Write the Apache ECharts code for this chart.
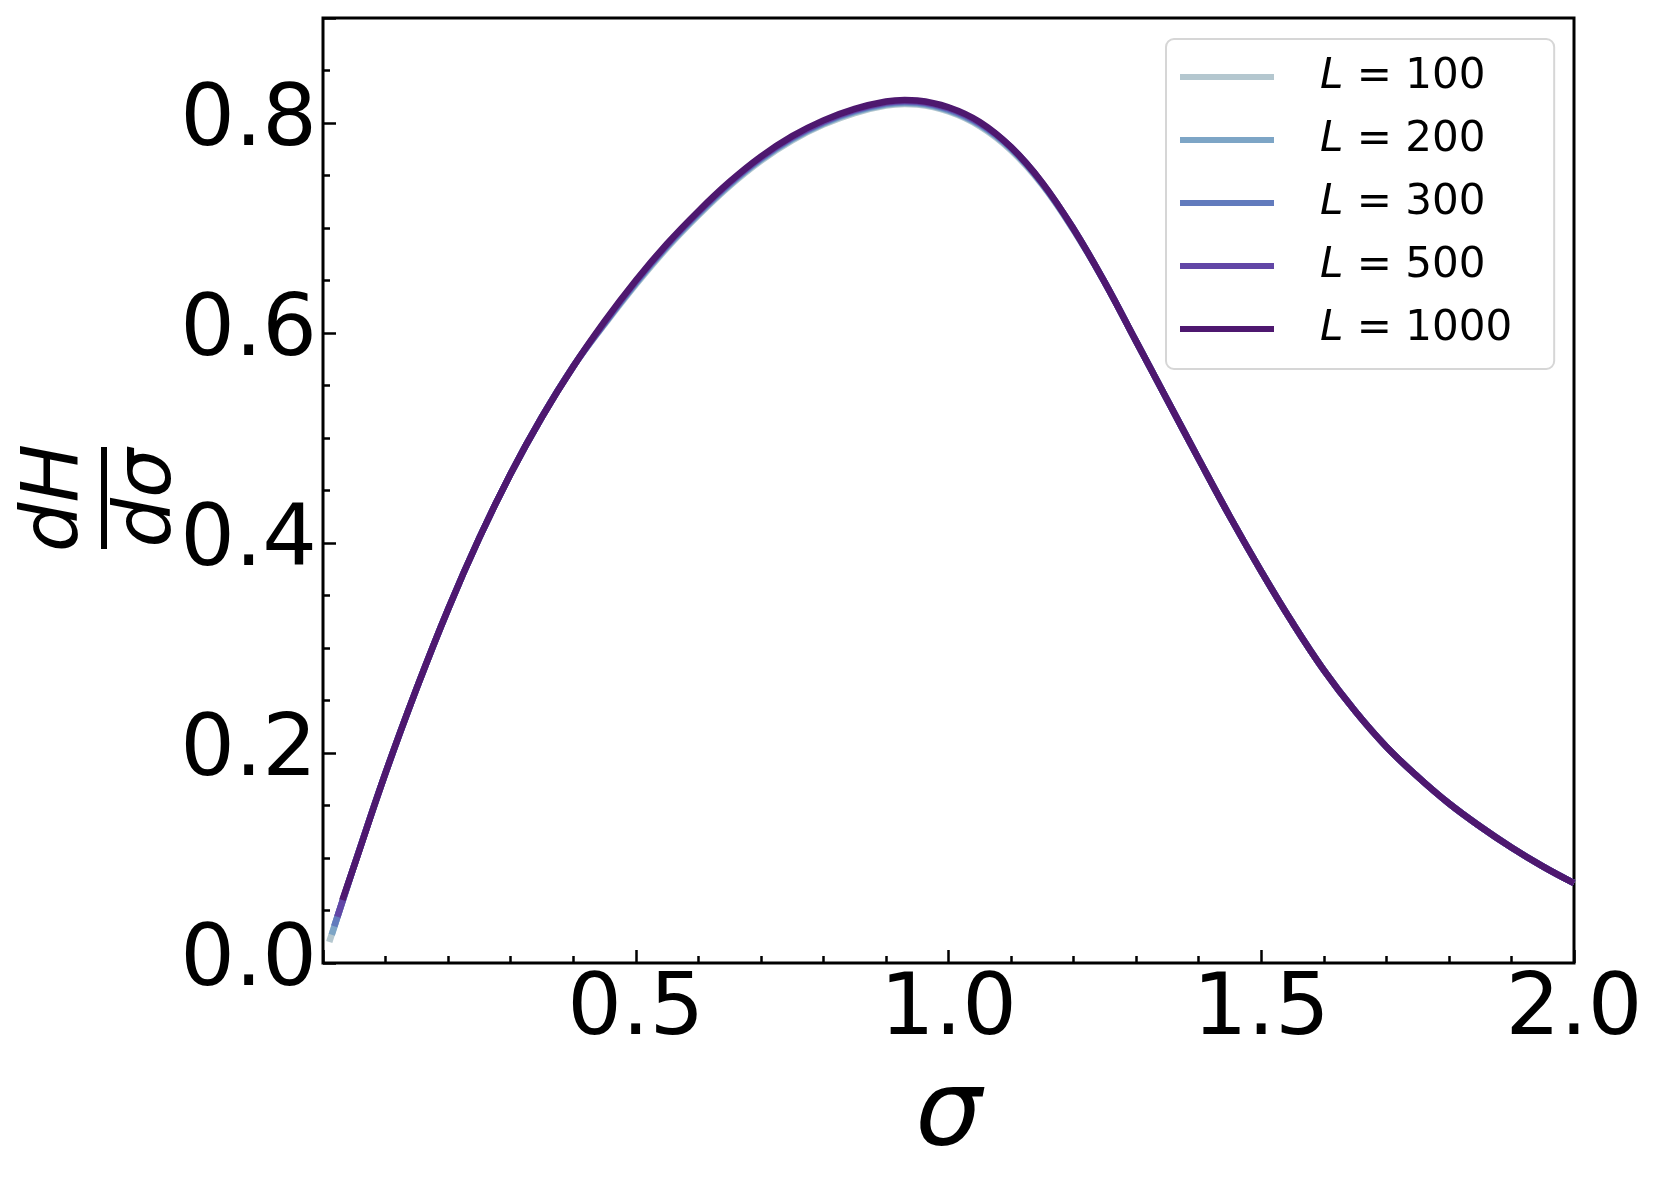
<!DOCTYPE html>
<html>
<head>
<meta charset="utf-8">
<script src="https://cdn.jsdelivr.net/npm/echarts@6/dist/echarts.min.js"></script>
<style>
html, body { margin: 0; background: #fff; }
#chart { width: 1661px; height: 1186px; }
</style>
</head>
<body>
<div id="chart"></div>
<script>
// system sizes and their line colours
const sizes = [100, 200, 300, 500, 1000]
const colors = ['#b4c7cf', '#7da5c6', '#627bbd', '#6246a6', '#4e186f']

// first point of each curve (curves start at slightly different sigma)
const startSigma = [0.010, 0.014, 0.018, 0.023, 0.031]
const startValue = [0.020, 0.027, 0.035, 0.044, 0.060]

// shared sigma grid after the start point
const sigma = [0.05, 0.1, 0.15, 0.2, 0.25, 0.3, 0.35, 0.4, 0.45, 0.5, 0.55, 0.6, 0.65, 0.7, 0.75, 0.8, 0.85, 0.9, 0.93, 0.95,
  1.0, 1.05, 1.1, 1.15, 1.2, 1.25, 1.3, 1.35, 1.4, 1.45, 1.5, 1.55, 1.6, 1.65, 1.7, 1.75, 1.8, 1.85, 1.9, 1.95, 2.0]

const dH100 = [0.093, 0.181, 0.262, 0.337, 0.405, 0.466, 0.520, 0.568, 0.608, 0.646, 0.681, 0.712, 0.740, 0.764, 0.7835, 0.7985, 0.8095, 0.8165, 0.818, 0.8175,
  0.811, 0.797, 0.774, 0.741, 0.698, 0.648, 0.592, 0.536, 0.480, 0.425, 0.373, 0.324, 0.279, 0.240, 0.206, 0.1775, 0.152, 0.130, 0.110, 0.092, 0.076]
const dH200 = [0.093, 0.181, 0.262, 0.337, 0.405, 0.466, 0.520, 0.568, 0.609, 0.647, 0.682, 0.713, 0.741, 0.765, 0.7845, 0.7995, 0.8105, 0.8175, 0.819, 0.8185,
  0.812, 0.798, 0.775, 0.742, 0.698, 0.648, 0.592, 0.536, 0.480, 0.425, 0.373, 0.324, 0.279, 0.240, 0.206, 0.1775, 0.152, 0.130, 0.110, 0.092, 0.076]
const dH300 = [0.093, 0.181, 0.262, 0.337, 0.405, 0.466, 0.520, 0.568, 0.609, 0.648, 0.683, 0.714, 0.742, 0.766, 0.7855, 0.8005, 0.8115, 0.8185, 0.820, 0.8195,
  0.813, 0.799, 0.776, 0.742, 0.699, 0.648, 0.592, 0.536, 0.480, 0.425, 0.373, 0.324, 0.279, 0.240, 0.206, 0.1775, 0.152, 0.130, 0.110, 0.092, 0.076]
const dH500 = [0.093, 0.181, 0.262, 0.337, 0.405, 0.466, 0.520, 0.568, 0.610, 0.649, 0.684, 0.715, 0.743, 0.767, 0.7865, 0.8015, 0.8125, 0.8195, 0.821, 0.8205,
  0.814, 0.800, 0.777, 0.743, 0.699, 0.648, 0.592, 0.536, 0.480, 0.425, 0.373, 0.324, 0.279, 0.240, 0.206, 0.1775, 0.152, 0.130, 0.110, 0.092, 0.076]
const dH1000 = [0.093, 0.181, 0.262, 0.337, 0.405, 0.466, 0.520, 0.568, 0.611, 0.650, 0.685, 0.716, 0.744, 0.768, 0.7875, 0.8025, 0.8135, 0.8205, 0.822, 0.8215,
  0.815, 0.801, 0.777, 0.743, 0.699, 0.648, 0.592, 0.536, 0.480, 0.425, 0.373, 0.324, 0.279, 0.240, 0.206, 0.1775, 0.152, 0.130, 0.110, 0.092, 0.076]
const curves = [dH100, dH200, dH300, dH500, dH1000]

const FONT = '"DejaVu Sans", sans-serif'

const series = sizes.map((L, i) => ({
  name: 'L = ' + L,
  type: 'line',
  showSymbol: false,
  smooth: 0.4,
  color: colors[i],
  lineStyle: { width: 6.5, color: colors[i], cap: 'butt' },
  data: [[startSigma[i], startValue[i]]].concat(sigma.map((s, k) => [s, curves[i][k]]))
}))

const chart = echarts.init(document.getElementById('chart'))
chart.setOption({
  animation: false,
  backgroundColor: '#fff',
  grid: {
    left: 323, right: 87, top: 18, bottom: 223,
    show: true, borderColor: '#000', borderWidth: 3, backgroundColor: 'transparent'
  },
  legend: {
    orient: 'vertical',
    left: 1166, top: 39,
    padding: [17, 42, 19, 14],
    itemGap: 21,
    itemWidth: 94, itemHeight: 6,
    icon: 'rect',
    borderColor: '#d6d6d6', borderWidth: 2, borderRadius: 8,
    backgroundColor: '#fff',
    data: sizes.map(L => 'L = ' + L),
    formatter: name => '{i|L}{n|' + name.slice(1) + '}',
    textStyle: {
      color: '#000', fontFamily: FONT, fontSize: 42, lineHeight: 42,
      rich: {
        i: { fontFamily: FONT, fontStyle: 'italic', fontSize: 42, padding: [0, 0, 0, 41], color: '#000' },
        n: { fontFamily: FONT, fontSize: 42, color: '#000' }
      }
    }
  },
  xAxis: {
    type: 'value', min: 0, max: 2, interval: 0.5,
    name: 'σ', nameLocation: 'middle', nameGap: 102,
    nameTextStyle: { fontFamily: FONT, fontStyle: 'italic', fontSize: 105, color: '#000' },
    axisLine: { show: false },
    axisTick: { inside: true, length: 13, lineStyle: { color: '#000', width: 2.5 } },
    minorTick: { show: true, splitNumber: 5, length: 7, lineStyle: { color: '#000', width: 2.5 } },
    splitLine: { show: false },
    axisLabel: {
      margin: 6, color: '#000', fontFamily: FONT, fontSize: 86,
      formatter: v => (v === 0 ? '' : v.toFixed(1))
    }
  },
  yAxis: [{
    type: 'value', min: 0, max: 0.9, interval: 0.2,
    axisLine: { show: false },
    axisTick: { inside: true, length: 13, lineStyle: { color: '#000', width: 2.5 } },
    splitLine: { show: false },
    axisLabel: {
      margin: 6, color: '#000', fontFamily: FONT, fontSize: 86,
      formatter: v => (v > 0.85 ? '' : v.toFixed(1))
    }
  }, {
    // minor ticks every 0.05
    type: 'value', min: 0, max: 0.9, interval: 0.05, position: 'left',
    axisLine: { show: false },
    axisTick: { inside: true, length: 7, lineStyle: { color: '#000', width: 2.5 } },
    splitLine: { show: false },
    axisLabel: { show: false }
  }],
  graphic: [{
    type: 'group', x: 104, y: 498, rotation: Math.PI / 2,
    children: [
      { type: 'text', x: 0, y: -47, style: { text: 'dH', fontFamily: FONT, fontStyle: 'italic', fontSize: 78, fill: '#000', align: 'center', verticalAlign: 'middle' } },
      { type: 'rect', shape: { x: -51, y: -3, width: 102, height: 6 }, style: { fill: '#000' } },
      { type: 'text', x: 0, y: 46, style: { text: 'dσ', fontFamily: FONT, fontStyle: 'italic', fontSize: 78, fill: '#000', align: 'center', verticalAlign: 'middle' } }
    ]
  }],
  series: series
})
</script>
</body>
</html>
